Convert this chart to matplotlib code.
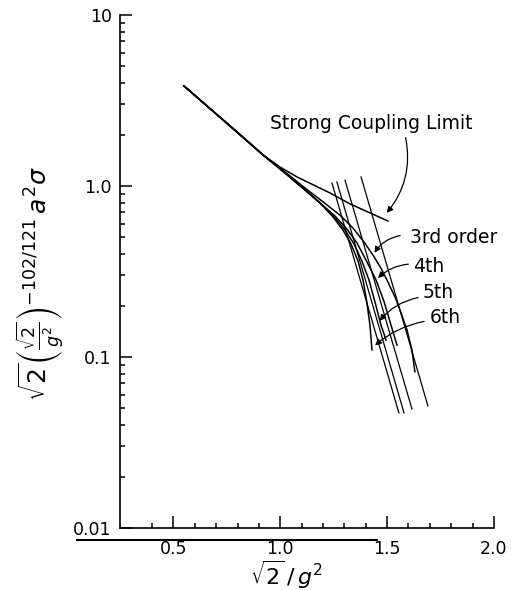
import numpy as np
import matplotlib.pyplot as plt
from matplotlib.lines import Line2D
from matplotlib.ticker import FixedLocator, NullFormatter

# strong coupling limit
scl_x = [0.549, 0.797, 0.919, 0.999, 1.078, 1.233, 1.327, 1.504]
scl_y = [3.85, 2.07, 1.52, 1.29, 1.13, 0.91, 0.785, 0.624]

# shared strong coupling branch before the orders split apart
head_x = [0.549, 0.797, 0.919]
head_y = [3.85, 2.07, 1.52]

# strong coupling expansion, order by order
o3_x = [1.022, 1.116, 1.195, 1.279, 1.340, 1.392, 1.434, 1.471, 1.499, 1.537,
        1.565, 1.593, 1.616, 1.630]
o3_y = [1.208, 0.973, 0.817, 0.676, 0.568, 0.470, 0.394, 0.331, 0.282, 0.2244,
        0.181, 0.144, 0.110, 0.082]
o4_x = [1.022, 1.116, 1.186, 1.256, 1.312, 1.359, 1.401, 1.448, 1.486, 1.518, 1.546]
o4_y = [1.192, 0.948, 0.796, 0.668, 0.560, 0.464, 0.369, 0.282, 0.210, 0.154, 0.1175]
o5_x = [1.022, 1.116, 1.186, 1.252, 1.303, 1.345, 1.382, 1.415, 1.443, 1.471, 1.495]
o5_y = [1.192, 0.948, 0.796, 0.659, 0.553, 0.458, 0.364, 0.282, 0.210, 0.154, 0.1256]
o6_x = [1.022, 1.116, 1.186, 1.247, 1.293, 1.331, 1.364, 1.387, 1.405, 1.420, 1.429]
o6_y = [1.192, 0.948, 0.796, 0.659, 0.553, 0.458, 0.364, 0.282, 0.210, 0.152, 0.110]

# weak coupling (asymptotic scaling) lines
weak_x = [[1.242, 1.555], [1.265, 1.579], [1.303, 1.616], [1.378, 1.691]]
weak_y = [[1.04, 0.0471], [1.056, 0.0471], [1.08, 0.0497], [1.13, 0.0517]]

# label text, text anchor, arrow start, arrow tip
labels = ['Strong Coupling Limit', '3rd order', '4th', '5th', '6th']
label_pos = [(1.425, 2.31), (1.607, 0.503), (1.621, 0.336), (1.668, 0.237), (1.700, 0.171)]
arrow_from = [(1.584, 1.99), (1.574, 0.516), (1.612, 0.350), (1.658, 0.224), (1.686, 0.1625)]
arrow_to = [(1.490, 0.676), (1.434, 0.394), (1.448, 0.282), (1.457, 0.158), (1.434, 0.114)]
arrow_rad = [-0.25, 0.25, 0.2, 0.2, 0.15]

xticks_major = [0.5, 1.0, 1.5, 2.0]
xtick_labels = ['0.5', '1.0', '1.5', '2.0']
yticks_major = [0.01, 0.1, 1.0, 10]
ytick_labels = ['0.01', '0.1', '1.0', '10']

fig = plt.figure(figsize=(5.11, 5.90), dpi=100)
ax = fig.add_axes([0.2348, 0.1051, 0.9667 - 0.2348, 0.9746 - 0.1051])
ax.set_yscale('log')
ax.set_xlim(0.25, 2.0)
ax.set_ylim(0.01, 10)

lw = 1.1
ax.plot(scl_x, scl_y, color='black', lw=lw)
for ox, oy in [(o3_x, o3_y), (o4_x, o4_y), (o5_x, o5_y), (o6_x, o6_y)]:
    ax.plot(head_x + ox, head_y + oy, color='black', lw=lw)
for wx, wy in zip(weak_x, weak_y):
    ax.plot(wx, wy, color='black', lw=0.9)

for txt, pos, a0, a1, rad in zip(labels, label_pos, arrow_from, arrow_to, arrow_rad):
    ha = 'center' if txt.startswith('Strong') else 'left'
    ax.text(pos[0], pos[1], txt, ha=ha, va='center', fontsize=13.5)
    ax.annotate('', xy=a1, xytext=a0,
                arrowprops=dict(arrowstyle='-|>', color='black', lw=0.9,
                                mutation_scale=9,
                                connectionstyle=f'arc3,rad={rad}'))

for side in ['top', 'right']:
    ax.spines[side].set_visible(False)
for side in ['left', 'bottom']:
    ax.spines[side].set_linewidth(1.2)

ax.xaxis.set_major_locator(FixedLocator(xticks_major))
ax.set_xticklabels(xtick_labels)
ax.xaxis.set_minor_locator(FixedLocator(np.arange(0.4, 2.0, 0.1)))
ax.yaxis.set_major_locator(FixedLocator(yticks_major))
ax.set_yticklabels(ytick_labels)
ax.yaxis.set_minor_formatter(NullFormatter())
ax.tick_params(which='both', direction='in', width=1.1, labelsize=12.5)
ax.tick_params(which='major', length=8.5)
ax.tick_params(which='minor', length=3.8)
ax.tick_params(axis='x', pad=9)
ax.tick_params(axis='y', pad=6)

fig.text(40 / 511, 1 - 284 / 590,
         r'$\sqrt{2}\left(\frac{\sqrt{2}}{g^2}\right)^{-102/121}\,a^2\sigma$',
         rotation=90, ha='center', va='center', fontsize=18)
fig.text(286 / 511, 1 - 575 / 590, r'$\sqrt{2}\,/\,g^2$',
         ha='center', va='center', fontsize=16)

# rule under the x axis
fig.add_artist(Line2D([77 / 511, 377 / 511], [1 - 540 / 590, 1 - 540 / 590],
                      transform=fig.transFigure, color='black', lw=1.5))

fig.savefig('out.png', dpi=100)
